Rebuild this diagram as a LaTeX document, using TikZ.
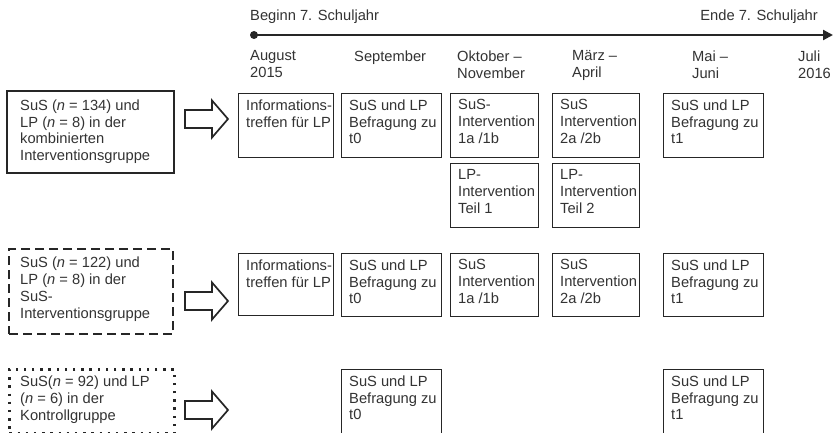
\documentclass[tikz,border=0pt]{standalone}
\usepackage{fontspec}
\setmainfont{Liberation Sans}
\usetikzlibrary{arrows.meta}
\definecolor{ink}{HTML}{262626}
\definecolor{txtc}{HTML}{333333}
\tikzset{
  lbl/.style={anchor=north west, inner sep=0pt, align=left, text=txtc,
    font=\fontsize{14.7}{16.8}\selectfont},
  stagebox/.style={draw=ink, line width=1.4pt, anchor=north west, inner sep=0pt},
  groupsolid/.style={draw=ink, line width=2.2pt, anchor=north west, inner sep=0pt},
  groupdash/.style={draw=ink, line width=2.4pt, dash pattern=on 9pt off 5pt, anchor=north west, inner sep=0pt},
  groupdot/.style={draw=ink, line width=2.6pt, dash pattern=on 2.4pt off 5.8pt, anchor=north west, inner sep=0pt},
  bigarrow/.style={draw=ink, line width=1.7pt, line join=miter}
}
\newcommand\grossarrow[2]{%
  \draw[bigarrow] (185,#1-9) coordinate (#2) -- (212,#1-9) -- (212,#1-18.5) -- (228,#1)
    -- (212,#1+18.5) -- (212,#1+9) -- (185,#1+9) -- cycle;}
\begin{document}
\begin{tikzpicture}[x=1pt,y=-1pt]
\clip (0,0) rectangle (834,433);
\fill[white] (0,0) rectangle (834,433);

% timeline
\node[lbl] (beg) at (250,9.5) {Beginn 7. Schuljahr};
\node[lbl, anchor=north east] (end) at (818,9.5) {Ende 7. Schuljahr};
\node[circle, fill=ink, inner sep=0pt, minimum size=8pt] (tstart) at (254,35) {};
\coordinate (tend) at (833,35);
\draw[ink, line width=2.2pt, -{Triangle[length=10pt,width=10pt]}] (tstart.center) -- (tend);

% months
\node[lbl] (m1) at (250,50.5) {August\\2015};
\node[lbl] (m2) at (354,50.5) {September};
\node[lbl] (m3) at (457,50.5) {Oktober --\\November};
\node[lbl] (m4) at (572,50.5) {März --\\April};
\node[lbl] (m5) at (692,50.5) {Mai --\\Juni};
\node[lbl] (m6) at (798,50.5) {Juli\\2016};

% ---------- row 1
\node[groupsolid, minimum width=167pt, minimum height=82pt] (g1) at (6,90) {};
\node[lbl] (g1t) at (20,99.5) {SuS (\textit{n} = 134) und\\LP (\textit{n} = 8) in der\\kombinierten\\Interventionsgruppe};
\grossarrow{119}{a1}

\node[stagebox, minimum width=95pt, minimum height=64pt] (r1a) at (238,93) {};
\node[lbl] at ([shift={(8,6.5)}]r1a.north west) {Informations-\\treffen für LP};
\node[stagebox, minimum width=100pt, minimum height=64pt] (r1b) at (341,93) {};
\node[lbl] at ([shift={(8,6.5)}]r1b.north west) {SuS und LP\\Befragung zu\\t0};
\node[stagebox, minimum width=88pt, minimum height=64pt] (r1c) at (450,93) {};
\node[lbl] at ([shift={(8,6.5)}]r1c.north west) {SuS-\\Intervention\\1a /1b};
\node[stagebox, minimum width=87pt, minimum height=64pt] (r1d) at (552,93) {};
\node[lbl] at ([shift={(8,6.5)}]r1d.north west) {SuS\\Intervention\\2a /2b};
\node[stagebox, minimum width=100pt, minimum height=64pt] (r1e) at (663,93) {};
\node[lbl] at ([shift={(8,6.5)}]r1e.north west) {SuS und LP\\Befragung zu\\t1};
\node[stagebox, minimum width=88pt, minimum height=64pt] (r1f) at (450,163) {};
\node[lbl] at ([shift={(8,6.5)}]r1f.north west) {LP-\\Intervention\\Teil 1};
\node[stagebox, minimum width=87pt, minimum height=64pt] (r1g) at (552,163) {};
\node[lbl] at ([shift={(8,6.5)}]r1g.north west) {LP-\\Intervention\\Teil 2};

% ---------- row 2
\node[groupdash, minimum width=164pt, minimum height=85pt] (g2) at (8,248) {};
\node[lbl] (g2t) at (20,257) {SuS (\textit{n} = 122) und\\LP (\textit{n} = 8) in der\\SuS-\\Interventionsgruppe};
\grossarrow{301}{a2}

\node[stagebox, minimum width=95pt, minimum height=62pt] (r2a) at (238,253) {};
\node[lbl] at ([shift={(8,6.5)}]r2a.north west) {Informations-\\treffen für LP};
\node[stagebox, minimum width=100pt, minimum height=63pt] (r2b) at (341,253) {};
\node[lbl] at ([shift={(8,6.5)}]r2b.north west) {SuS und LP\\Befragung zu\\t0};
\node[stagebox, minimum width=88pt, minimum height=63pt] (r2c) at (450,253) {};
\node[lbl] at ([shift={(8,6.5)}]r2c.north west) {SuS\\Intervention\\1a /1b};
\node[stagebox, minimum width=87pt, minimum height=63pt] (r2d) at (552,253) {};
\node[lbl] at ([shift={(8,6.5)}]r2d.north west) {SuS\\Intervention\\2a /2b};
\node[stagebox, minimum width=100pt, minimum height=63pt] (r2e) at (663,253) {};
\node[lbl] at ([shift={(8,6.5)}]r2e.north west) {SuS und LP\\Befragung zu\\t1};

% ---------- row 3
\node[groupdot, minimum width=165pt, minimum height=64pt] (g3) at (8,368) {};
\node[lbl] (g3t) at (20,376) {SuS(\textit{n} = 92) und LP\\(\textit{n} = 6) in der\\Kontrollgruppe};
\grossarrow{410}{a3}

\node[stagebox, minimum width=100pt, minimum height=70pt] (r3b) at (341,369) {};
\node[lbl] at ([shift={(8,6.5)}]r3b.north west) {SuS und LP\\Befragung zu\\t0};
\node[stagebox, minimum width=100pt, minimum height=70pt] (r3e) at (663,369) {};
\node[lbl] at ([shift={(8,6.5)}]r3e.north west) {SuS und LP\\Befragung zu\\t1};
\end{tikzpicture}
\end{document}
